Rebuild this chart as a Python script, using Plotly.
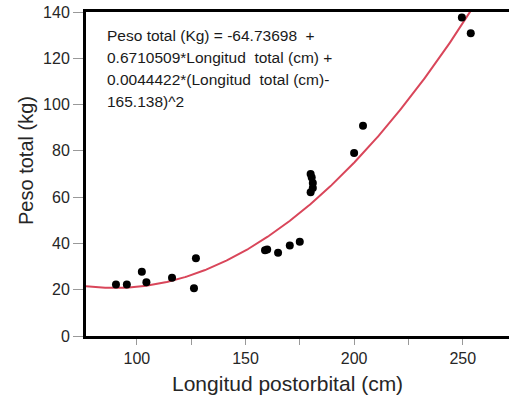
import numpy as np
import plotly.graph_objects as go

# Observed specimens: postorbital length (cm) vs total weight (kg)
longitud_cm = [90.4, 95.4, 102.3, 104.4, 116.2, 126.3, 127.2,
               159.0, 160.0, 165.0, 170.4, 175.0,
               180.0, 180.5, 181.0, 181.0, 180.0,
               200.0, 204.1, 249.6, 253.7]
peso_kg = [22.3, 22.3, 27.8, 23.2, 25.2, 20.6, 33.6,
           37.0, 37.4, 36.0, 39.1, 40.7,
           70.0, 68.5, 66.1, 64.0, 62.1,
           79.1, 90.8, 137.6, 130.8]

# Quadratic fit coefficients as printed on the chart
b0 = -64.73698
b1 = 0.6710509
b2 = 0.0044422
x_center = 165.138

eq_lines = [
    "Peso total (Kg) = -64.73698\u00a0 +",
    "0.6710509*Longitud\u00a0 total (cm) +",
    "0.0044422*(Longitud\u00a0 total (cm)-",
    "165.138)^2",
]

x_range = [76.6, 271.3]
y_range = [0, 140]

xf = np.linspace(x_range[0], 262, 400)
yf = b0 + b1 * xf + b2 * (xf - x_center) ** 2

W, H = 509, 402
ml, mt, mb, mr = 86, 12, 66, 0

fig = go.Figure()
fig.add_trace(go.Scatter(x=xf, y=yf, mode="lines",
                         line=dict(color="#d9465a", width=2),
                         hoverinfo="skip", showlegend=False))
fig.add_trace(go.Scatter(x=longitud_cm, y=peso_kg, mode="markers",
                         marker=dict(color="black", size=8),
                         showlegend=False))

font_family = "Liberation Sans, Arial, sans-serif"
txt_col = "#262626"

annotations = []
line_y = [35.5, 57.5, 79.5, 101]
for t, py in zip(eq_lines, line_y):
    annotations.append(dict(
        text=t, xref="paper", yref="paper",
        x=(105 - ml) / (W - ml - mr), y=1 - (py - mt) / (H - mt - mb),
        xanchor="left", yanchor="middle", showarrow=False,
        font=dict(family=font_family, size=15.5, color="#1a1a1a")))

# axis titles
annotations.append(dict(
    text="Longitud postorbital (cm)", xref="paper", yref="paper",
    x=(287 - ml) / (W - ml - mr), y=-(383 - (H - mb)) / (H - mt - mb),
    xanchor="center", yanchor="middle", showarrow=False,
    font=dict(family=font_family, size=21, color=txt_col)))
annotations.append(dict(
    text="Peso total (kg)", xref="paper", yref="paper",
    x=-(ml - 26) / (W - ml - mr), y=1 - (160 - mt) / (H - mt - mb),
    xanchor="center", yanchor="middle", showarrow=False, textangle=-90,
    font=dict(family=font_family, size=20, color=txt_col)))

fig.update_layout(
    width=W, height=H,
    margin=dict(l=ml, r=mr, t=mt, b=mb, pad=0),
    paper_bgcolor="white", plot_bgcolor="white",
    annotations=annotations,
    xaxis=dict(range=x_range, tickvals=[100, 150, 200, 250],
               showgrid=False, zeroline=False,
               showline=True, linecolor="black", linewidth=3, mirror=True,
               ticks="outside", ticklen=6, tickcolor="#999999", tickwidth=1,
               minor=dict(tickvals=[125, 175, 225], ticks="outside",
                          ticklen=6, tickcolor="#999999", showgrid=False),
               tickfont=dict(family=font_family, size=16, color=txt_col)),
    yaxis=dict(range=y_range, tickvals=[0, 20, 40, 60, 80, 100, 120, 140],
               showgrid=False, zeroline=False,
               showline=True, linecolor="black", linewidth=3, mirror=False,
               ticks="outside", ticklen=10, tickcolor="#999999", tickwidth=1,
               tickfont=dict(family=font_family, size=16, color=txt_col)),
)

fig.write_html("out.html")
